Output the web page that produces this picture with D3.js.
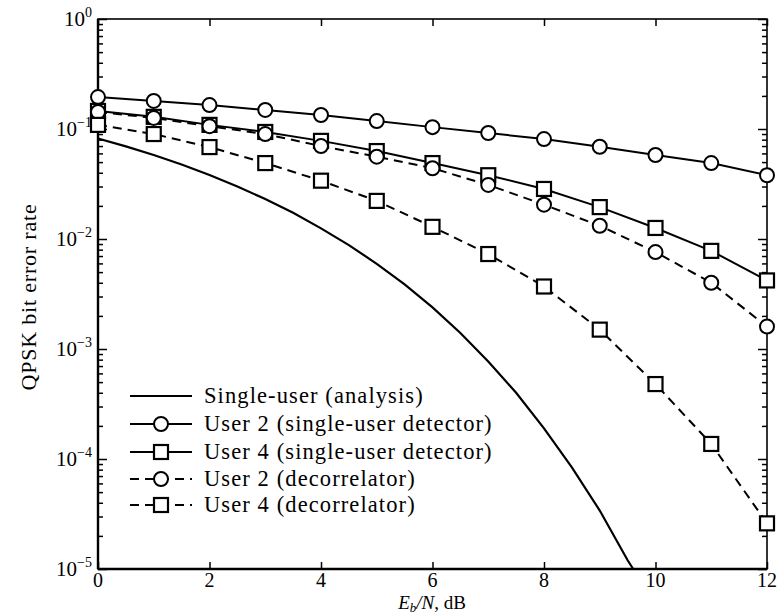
<!DOCTYPE html>
<html>
<head>
<meta charset="utf-8">
<script src="https://cdn.jsdelivr.net/npm/d3@7"></script>
<style>
    body { margin: 0; background: white; }
    svg { display: block; }
    text { font-family: "Liberation Serif", "Times New Roman", serif; }
</style>
</head>
<body>
<script>
// Eb/N0 values (dB) where the simulated points sit
const ebno = [0, 1, 2, 3, 4, 5, 6, 7, 8, 9, 10, 11, 12];

// simulated bit error rates
const user2Single = [0.195, 0.180, 0.165, 0.149, 0.134, 0.118, 0.104, 0.092, 0.081, 0.069, 0.058, 0.049, 0.038];
const user4Single = [0.146, 0.129, 0.109, 0.094, 0.078, 0.063, 0.049, 0.038, 0.0285, 0.0195, 0.0126, 0.0078, 0.0042];
const user2Decor = [0.143, 0.126, 0.106, 0.090, 0.070, 0.056, 0.044, 0.031, 0.0205, 0.0132, 0.0076, 0.0040, 0.0016];
const user4Decor = [0.109, 0.090, 0.0685, 0.049, 0.0339, 0.0222, 0.0129, 0.0073, 0.0037, 0.0015, 0.00048, 0.000137, 0.000026];

// single-user analysis curve
const analysisX = [0, 0.5, 1, 1.5, 2, 2.5, 3, 3.5, 4, 4.5, 5, 5.5, 6, 6.5, 7, 7.5, 8, 8.5, 9, 9.5, 9.6];
const analysisBer = [0.082, 0.0695, 0.0580, 0.0475, 0.0382, 0.0300, 0.0231, 0.0173, 0.0125, 0.0088, 0.00595, 0.00386, 0.00239, 0.0014, 0.00077, 0.0004, 0.00019, 0.000084, 0.000034, 0.000012, 0.00001];

// tick labels
const xTicks = [0, 2, 4, 6, 8, 10, 12];
const yExponents = [0, -1, -2, -3, -4, -5];

const legendLabels = [
    "Single-user (analysis)",
    "User 2 (single-user detector)",
    "User 4 (single-user detector)",
    "User 2 (decorrelator)",
    "User 4 (decorrelator)"
];

function main(){
    const width = 779;
    const height = 614;
    const left = 98, right = 767, top = 19, bottom = 569;

    const svg = d3.select("body").append("svg")
        .attr("width", width)
        .attr("height", height);

    const xScale = d3.scaleLinear().domain([0, 12]).range([left, right]);
    const yScale = d3.scaleLog().domain([1e-5, 1]).range([bottom, top]);

    //tick marks, all pointing into the plot
    const yAll = yScale.ticks();
    const isMajor = v => Math.abs(Math.log10(v) - Math.round(Math.log10(v))) < 1e-6;

    const leftAxis = svg.append("g").attr("transform", "translate(" + left + ",0)")
        .call(d3.axisRight(yScale).tickValues(yAll).tickSize(5).tickFormat(""));
    leftAxis.selectAll(".tick line").attr("x2", d => isMajor(d) ? 9 : 5);

    const rightAxis = svg.append("g").attr("transform", "translate(" + right + ",0)")
        .call(d3.axisLeft(yScale).tickValues(yAll).tickSize(5).tickFormat(""));
    rightAxis.selectAll(".tick line").attr("x2", d => isMajor(d) ? -9 : -5);

    svg.append("g").attr("transform", "translate(0," + bottom + ")")
        .call(d3.axisTop(xScale).tickValues(xTicks).tickSize(7).tickFormat(""));
    svg.append("g").attr("transform", "translate(0," + top + ")")
        .call(d3.axisBottom(xScale).tickValues(xTicks).tickSize(7).tickFormat(""));

    svg.selectAll(".domain").remove();
    svg.selectAll(".tick line").attr("stroke", "#000").attr("stroke-width", 1.5);

    //plot frame
    svg.append("rect")
        .attr("x", left).attr("y", top)
        .attr("width", right - left).attr("height", bottom - top)
        .attr("fill", "none").attr("stroke", "#000").attr("stroke-width", 1.6);
    svg.append("line").attr("x1", left).attr("x2", left).attr("y1", top).attr("y2", bottom)
        .attr("stroke", "#000").attr("stroke-width", 2.4);
    svg.append("line").attr("x1", left).attr("x2", right).attr("y1", bottom).attr("y2", bottom)
        .attr("stroke", "#000").attr("stroke-width", 2.4);

    //y tick labels as 10 with superscript
    yExponents.forEach(e => {
        const t = svg.append("text")
            .attr("x", 92)
            .attr("y", yScale(Math.pow(10, e)) + 7)
            .attr("text-anchor", "end")
            .attr("font-size", "21px");
        t.append("tspan").text("10");
        t.append("tspan").attr("dy", -9).attr("font-size", "14px").text(e === 0 ? "0" : "\u2212" + (-e));
    });

    //x tick labels
    svg.selectAll(".xlab")
        .data(xTicks)
        .enter().append("text")
        .attr("class", "xlab")
        .attr("x", d => xScale(d))
        .attr("y", 587)
        .attr("text-anchor", "middle")
        .attr("font-size", "20px")
        .text(d => d);

    //axis titles
    const xt = svg.append("text")
        .attr("x", 432).attr("y", 609)
        .attr("text-anchor", "middle")
        .attr("font-size", "19px");
    xt.append("tspan").attr("font-style", "italic").text("E");
    xt.append("tspan").attr("font-style", "italic").attr("font-size", "13px").attr("dy", 3).text("b");
    xt.append("tspan").attr("font-style", "italic").attr("dy", -3).text("/N");
    xt.append("tspan").text(", dB");

    svg.append("text")
        .attr("transform", "translate(36,297) rotate(-90)")
        .attr("text-anchor", "middle")
        .attr("font-size", "22px")
        .attr("letter-spacing", "0.8px")
        .text("QPSK bit error rate");

    //curves
    const line = d3.line().x(d => xScale(d[0])).y(d => yScale(d[1]));
    const series = [
        {vals: user2Single, dash: null, mark: "circle"},
        {vals: user4Single, dash: null, mark: "square"},
        {vals: user2Decor, dash: "9,6", mark: "circle"},
        {vals: user4Decor, dash: "9,6", mark: "square"}
    ];

    svg.append("path")
        .datum(analysisX.map((x, i) => [x, analysisBer[i]]))
        .attr("d", line)
        .attr("fill", "none").attr("stroke", "#000").attr("stroke-width", 2.2);

    series.forEach(s => {
        const pts = ebno.map((x, i) => [x, s.vals[i]]);
        svg.append("path")
            .datum(pts)
            .attr("d", line)
            .attr("fill", "none").attr("stroke", "#000").attr("stroke-width", 2)
            .attr("stroke-dasharray", s.dash);
        drawMarks(svg, pts.map(p => [xScale(p[0]), yScale(p[1])]), s.mark);
    });

    //legend
    const legendY = [396, 424, 452, 479, 505];
    const legendStyles = [{dash: null, mark: null}].concat(series);
    legendStyles.forEach((s, i) => {
        const yy = legendY[i];
        svg.append("line")
            .attr("x1", 130).attr("x2", 192).attr("y1", yy).attr("y2", yy)
            .attr("stroke", "#000").attr("stroke-width", 2.2)
            .attr("stroke-dasharray", s.dash);
        if (s.mark) drawMarks(svg, [[161, yy]], s.mark);
        svg.append("text")
            .attr("x", 204).attr("y", yy + 7)
            .attr("font-size", "22.5px")
            .attr("letter-spacing", "1.1px")
            .text(legendLabels[i]);
    });
}

//open circle or square markers
function drawMarks(svg, pts, mark){
    if (mark === "circle") {
        svg.selectAll(null).data(pts).enter().append("circle")
            .attr("cx", d => d[0]).attr("cy", d => d[1]).attr("r", 7)
            .attr("fill", "white").attr("stroke", "#000").attr("stroke-width", 2);
    } else {
        svg.selectAll(null).data(pts).enter().append("rect")
            .attr("x", d => d[0] - 7).attr("y", d => d[1] - 7)
            .attr("width", 14).attr("height", 14)
            .attr("fill", "white").attr("stroke", "#000").attr("stroke-width", 2.2);
    }
}

main();
</script>
</body>
</html>
